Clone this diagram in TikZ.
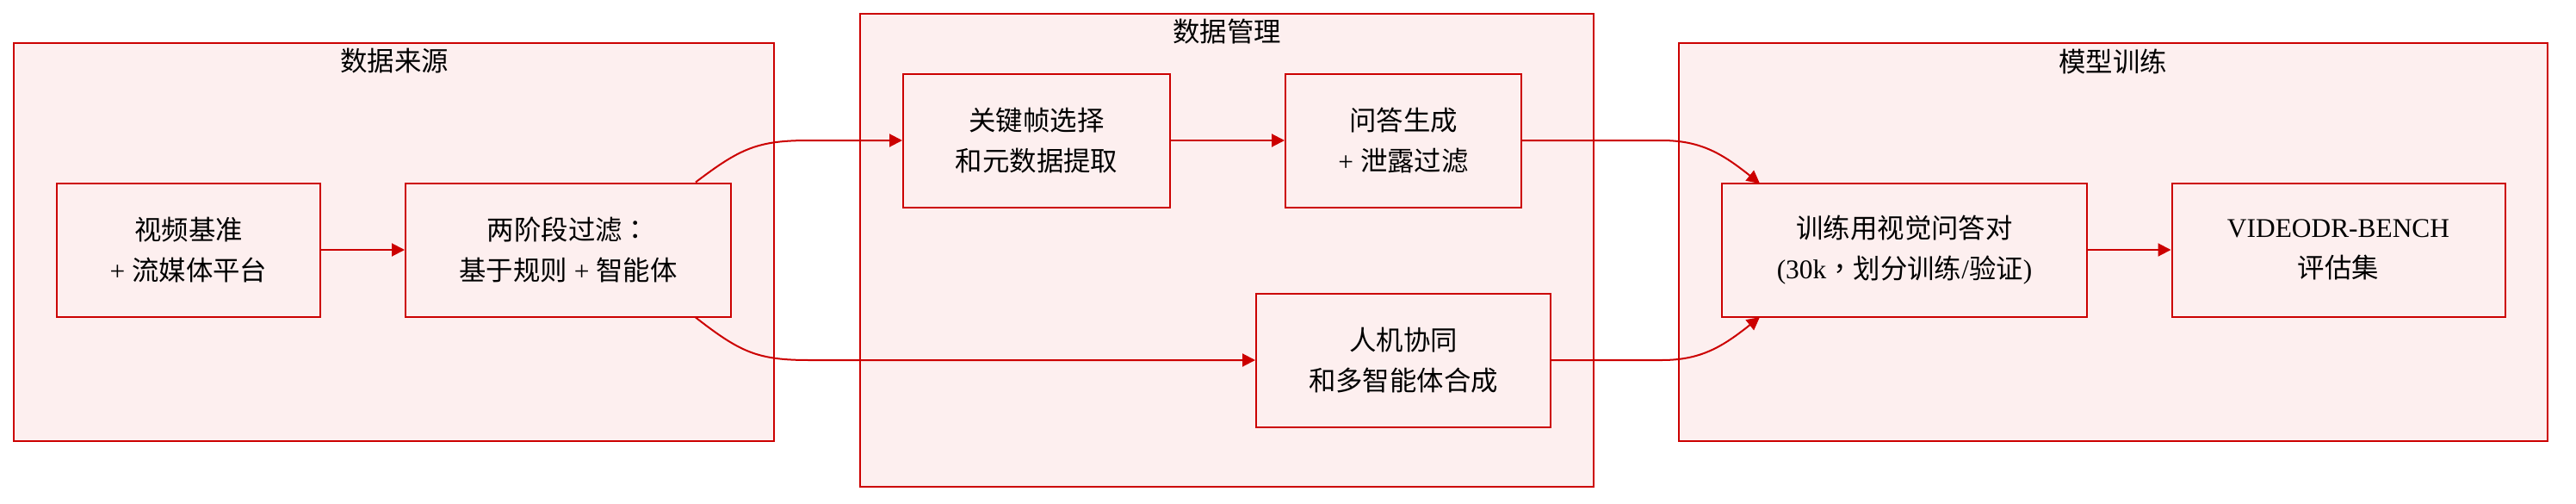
\documentclass[tikz,border=0pt]{standalone}
\usepackage{fontspec}
\setmainfont{Liberation Serif}
\newfontfamily\cjk{Noto Sans CJK SC}
\newfontfamily\cjkpunct{Noto Sans CJK TC}
\usetikzlibrary{arrows.meta}
\newlength{\du}
\setlength{\du}{0.5pt}
\definecolor{dialinecolor}{rgb}{0.800000, 0.000000, 0.000000}
\definecolor{diafillcolor}{rgb}{0.992000, 0.937000, 0.937000}
\definecolor{diatextcolor}{rgb}{0.000000, 0.000000, 0.000000}

\begin{document}
\begin{tikzpicture}[
  groupbox/.style={draw=dialinecolor,fill=diafillcolor,line width=0.7pt},
  grouptitle/.style={inner sep=0pt,outer sep=0pt,text=diatextcolor,font=\fontsize{15.7}{23.5}\selectfont},
  stepbox/.style={draw=dialinecolor,fill=diafillcolor,line width=1pt,align=center,
    inner sep=0pt,minimum height=155\du,text=diatextcolor,
    font=\fontsize{15.7}{23.5}\selectfont},
  flow/.style={draw=dialinecolor,line width=1pt,-{Triangle[length=7.5pt,width=7.5pt]}}
]
\pgftransformxscale{1.000000}
\pgftransformyscale{-1.000000}
\useasboundingbox (0\du,0\du) rectangle (2992\du,584\du);
% groups
\draw[groupbox] (16\du,50\du) rectangle (899\du,512\du);
\draw[groupbox] (999\du,16\du) rectangle (1851\du,565\du);
\draw[groupbox] (1950\du,50\du) rectangle (2959\du,512\du);
\node[grouptitle] (t1) at (458\du,71\du){\cjk 数据来源};
\node[grouptitle] (t2) at (1425\du,37\du){\cjk 数据管理};
\node[grouptitle] (t3) at (2454\du,71\du){\cjk 模型训练};
% steps
\node[stepbox,minimum width=306\du] (bench) at (219\du,290\du){{\cjk 视频基准}\\+ {\cjk 流媒体平台}};
\node[stepbox,minimum width=378\du] (filter) at (660\du,290\du){{\cjk 两阶段过滤}{\cjkpunct ：}\\{\cjk 基于规则} + {\cjk 智能体}};
\node[stepbox,minimum width=310\du] (keyframe) at (1204\du,163\du){{\cjk 关键帧选择}\\{\cjk 和元数据提取}};
\node[stepbox,minimum width=274\du] (qagen) at (1630\du,163\du){{\cjk 问答生成}\\+ {\cjk 泄露过滤}};
\node[stepbox,minimum width=342\du] (human) at (1630\du,418\du){{\cjk 人机协同}\\{\cjk 和多智能体合成}};
\node[stepbox,minimum width=424\du] (trainqa) at (2212\du,290\du){{\cjk 训练用视觉问答对}\\(30k{\cjkpunct ，}{\cjk 划分训练}/{\cjk 验证})};
\node[stepbox,minimum width=387\du] (evalset) at (2716\du,290\du){VIDEODR-BENCH\\{\cjk 评估集}};
\coordinate (fin1) at (2044\du,213\du);
\coordinate (fin2) at (2044\du,368\du);
% connectors
\draw[flow] (bench) -- (filter);
\draw[flow] (filter.north east) ++(-42\du,0) .. controls (860\du,172\du) and (880\du,163\du) .. (940\du,163\du) -- (keyframe.west);
\draw[flow] (filter.south east) ++(-42\du,0) .. controls (860\du,409\du) and (880\du,418\du) .. (940\du,418\du) -- (human.west);
\draw[flow] (keyframe) -- (qagen);
\draw[flow] (qagen.east) -- (1930\du,163\du) .. controls (1975\du,163\du) and (2000\du,178\du) .. (fin1);
\draw[flow] (human.east) -- (1930\du,418\du) .. controls (1975\du,418\du) and (2000\du,403\du) .. (fin2);
\draw[flow] (trainqa) -- (evalset);
\end{tikzpicture}
\end{document}
